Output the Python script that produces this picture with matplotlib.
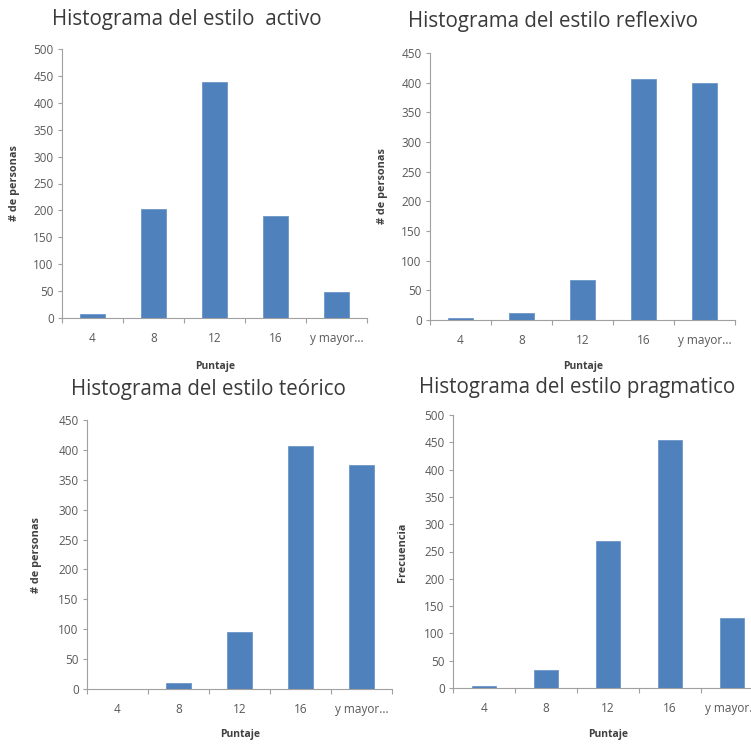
import matplotlib
matplotlib.use("Agg")
import matplotlib.pyplot as plt

plt.rcParams['font.family'] = ['Open Sans', 'DejaVu Sans']

categories = ["4", "8", "12", "16", "y mayor..."]

activo = [8, 202, 438, 190, 48]
reflexivo = [3, 12, 68, 406, 400]
teorico = [0, 10, 95, 407, 375]
pragmatico = [3, 33, 270, 455, 128]

titles = [
    "Histograma del estilo  activo",
    "Histograma del estilo reflexivo",
    "Histograma del estilo teórico",
    "Histograma del estilo pragmatico",
]
ylabels = ["# de personas", "# de personas", "# de personas", "Frecuencia"]
xlabel = "Puntaje"

W, H = 751, 744
BAR = "#4F81BD"
AXIS = "#A0A0A0"
TICKTXT = "#595959"
TITLE = "#3A3A3A"

fig = plt.figure(figsize=(W / 100, H / 100), dpi=100)
fig.patch.set_facecolor("white")


def px_axes(left, right, top, bottom):
    return fig.add_axes([left / W, 1 - bottom / H, (right - left) / W, (bottom - top) / H])


def panel(box, values, ymax, step, title, tpos, ylab, ypos, xpos):
    ax = px_axes(*box)
    x = range(len(categories))
    ax.bar(x, values, width=0.4, color=BAR, edgecolor="#6D96C8", linewidth=0.6, zorder=2)
    ax.set_xlim(-0.5, len(categories) - 0.5)
    ax.set_ylim(0, ymax)
    ax.set_yticks(range(0, ymax + 1, step))
    ax.set_xticks(list(x))
    ax.set_xticklabels(categories)
    ax.set_xticks([i - 0.5 for i in range(len(categories) + 1)], minor=True)
    ax.tick_params(axis="x", which="major", length=0, pad=10, labelsize=8.5, labelcolor=TICKTXT)
    ax.tick_params(axis="x", which="minor", length=3.5, color=AXIS, width=0.8)
    ax.tick_params(axis="y", length=3, color=AXIS, width=0.8, pad=3, labelsize=8.5, labelcolor=TICKTXT)
    for s in ("top", "right"):
        ax.spines[s].set_visible(False)
    for s in ("left", "bottom"):
        ax.spines[s].set_color(AXIS)
        ax.spines[s].set_linewidth(0.8)
    ax.set_facecolor("none")
    fig.text(tpos[0] / W, 1 - tpos[1] / H, title, ha="center", va="center",
             fontsize=14.8, color=TITLE)
    fig.text(ypos[0] / W, 1 - ypos[1] / H, ylab, ha="center", va="center",
             rotation=90, fontsize=7.8, fontweight="bold", color="#404040")
    fig.text(xpos[0] / W, 1 - xpos[1] / H, xlabel, ha="center", va="center",
             fontsize=7.5, fontweight="bold", color="#404040")
    return ax


panel((62, 367, 49, 318), activo, 500, 50, titles[0], (187, 20),
      ylabels[0], (15, 183), (215, 367))
panel((430, 735, 53, 320), reflexivo, 450, 50, titles[1], (553, 22),
      ylabels[1], (382, 186), (583, 367))
panel((87, 392, 420, 689), teorico, 450, 50, titles[2], (208, 390),
      ylabels[2], (37, 555), (240, 735))
panel((453, 763, 415, 688), pragmatico, 500, 50, titles[3], (577, 387),
      ylabels[3], (403, 552), (608, 734))

fig.savefig("out.png", dpi=100, facecolor="white")
